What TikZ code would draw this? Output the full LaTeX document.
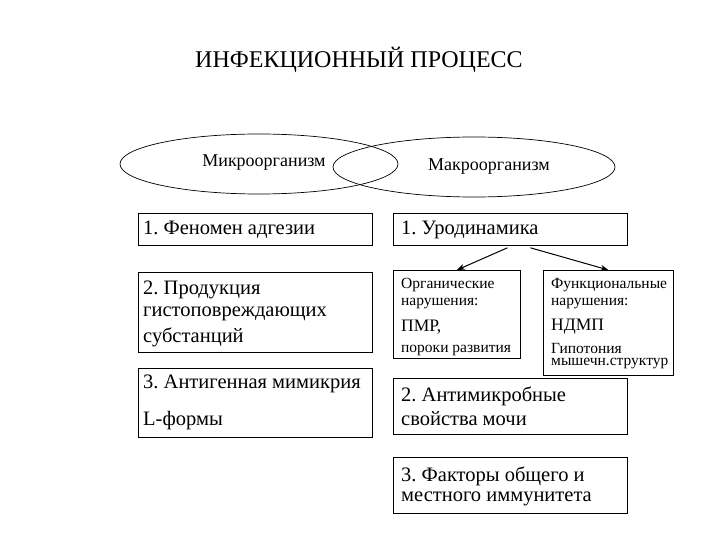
\documentclass[tikz,border=0pt]{standalone}
\usepackage{fontspec}
\setmainfont{Liberation Serif}
\usetikzlibrary{shapes.geometric,arrows.meta}
\frenchspacing
\begin{document}
\begin{tikzpicture}[x=1pt,y=-1pt,
  box/.style={draw,line width=0.8pt,inner sep=0pt,anchor=north west},
  ell/.style={draw,ellipse,line width=0.7pt,inner sep=0pt},
  big/.style={anchor=west,inner sep=0pt,font=\fontsize{20.5}{23}\selectfont},
  mid/.style={anchor=west,inner sep=0pt,font=\fontsize{17.5}{20}\selectfont},
  sml/.style={anchor=west,inner sep=0pt,font=\fontsize{15.5}{17}\selectfont},
  arr/.style={-{Stealth[length=8pt,width=6pt]},line width=1pt}]
\useasboundingbox[fill=white] (0,0) rectangle (720,540);
\node[anchor=center,inner sep=0pt,font=\fontsize{24}{26}\selectfont] (title) at (359,60) {ИНФЕКЦИОННЫЙ ПРОЦЕСС};
% ellipses
\node[ell,minimum width=278pt,minimum height=60pt] (micro) at (259,164) {};
\node[ell,minimum width=282pt,minimum height=60pt] (macro) at (474,167) {};
\node[anchor=center,inner sep=0pt,font=\fontsize{18}{20}\selectfont] (microt) at (264,163) {Микроорганизм};
\node[anchor=center,inner sep=0pt,font=\fontsize{18}{20}\selectfont] (macrot) at (489,167) {Макроорганизм};
% left boxes
\node[box,minimum width=234pt,minimum height=32pt] (l1) at (138,213) {};
\node[box,minimum width=234pt,minimum height=80pt] (l2) at (138,272) {};
\node[box,minimum width=234pt,minimum height=69pt] (l3) at (138,368) {};
\node[big] (l1a) at (143,230) {1. Феномен адгезии};
\node[big] (l2a) at (143,290) {2. Продукция};
\node[big] (l2b) at (143,314) {гистоповреждающих};
\node[big] (l2c) at (143,337) {субстанций};
\node[big] (l3a) at (143,384) {3. Антигенная мимикрия};
\node[big] (l3b) at (143,421) {L-формы};
% right boxes
\node[box,minimum width=234pt,minimum height=32pt] (urod) at (393,213) {};
\node[box,minimum width=127pt,minimum height=88pt] (org) at (393,270) {};
\node[box,minimum width=130pt,minimum height=105pt] (func) at (543,270) {};
\node[box,minimum width=234pt,minimum height=56pt] (anti) at (393,378) {};
\node[box,minimum width=234pt,minimum height=56pt] (fact) at (393,457) {};
\node[big] (urodt) at (401,230) {1. Уродинамика};
\node[sml] (orga) at (401,285) {Органические};
\node[sml] (orgb) at (401,304) {нарушения:};
\node[mid] (orgc) at (401,327) {ПМР,};
\node[sml] (orgd) at (401,350) {пороки развития};
\node[sml] (funa) at (551,285) {Функциональные};
\node[sml] (funb) at (551,304) {нарушения:};
\node[mid] (func3) at (551,327) {НДМП};
\node[sml,text depth=0pt] (fund) at (551,348) {Гипотония};
\node[sml,text height=1.1ex] (fune) at (551,365) {мышечн.структур};
\node[big] (antia) at (401,396) {2. Антимикробные};
\node[big] (antib) at (401,419) {свойства мочи};
\node[big] (facta) at (401,476) {3. Факторы общего и};
\node[big] (factb) at (401,499) {местного иммунитета};
% arrows
\draw[arr] ([xshift=-3pt,yshift=-2pt]urod.south) -- (org.north);
\draw[arr] ([xshift=20pt,yshift=-2pt]urod.south) -- (func.north);
\end{tikzpicture}
\end{document}
